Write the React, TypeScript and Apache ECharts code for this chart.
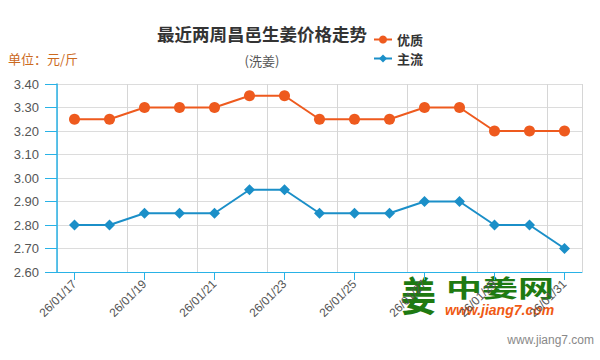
import React, { useEffect, useRef } from "react";
import * as echarts from "echarts";

const dates = [
  "26/01/17", "26/01/18", "26/01/19", "26/01/20", "26/01/21", "26/01/22", "26/01/23",
  "26/01/24", "26/01/25", "26/01/26", "26/01/27", "26/01/28", "26/01/29", "26/01/30", "26/01/31",
];
const premium = [3.25, 3.25, 3.3, 3.3, 3.3, 3.35, 3.35, 3.25, 3.25, 3.25, 3.3, 3.3, 3.2, 3.2, 3.2];
const mainstream = [2.8, 2.8, 2.85, 2.85, 2.85, 2.95, 2.95, 2.85, 2.85, 2.85, 2.9, 2.9, 2.8, 2.8, 2.7];
const seriesNames = ["优质", "主流"];

const AXIS = "#29b2e6";
const ORANGE = "#ee5a1e";
const BLUE = "#1b8fc8";

export default function App() {
  const ref = useRef<HTMLDivElement>(null);
  useEffect(() => {
    const chart = echarts.init(ref.current!, null, { renderer: "svg" });
    chart.setOption({
      animation: false,
      backgroundColor: "#fff",
      title: [
        {
          text: "最近两周昌邑生姜价格走势",
          left: 257,
          top: 20,
          textAlign: "center",
          textStyle: { fontSize: 17.5, fontWeight: "bold", color: "#333", fontFamily: "Noto Sans CJK SC" },
        },
        {
          text: "(洗姜)",
          left: 257,
          top: 49,
          textAlign: "center",
          textStyle: { fontSize: 13, fontWeight: "normal", color: "#555", fontFamily: "Noto Sans CJK SC" },
        },
      ],
      graphic: [
        {
          type: "text",
          left: 8,
          top: 52,
          style: { text: "单位：元/斤", fill: "#cc6a1e", fontSize: 13, fontFamily: "Noto Sans CJK SC" },
        },
        {
          type: "group",
          x: 401,
          y: 273,
          scaleX: 1,
          scaleY: 1.15,
          children: [
            {
              type: "text",
              x: 0,
              y: 0,
              style: { text: "姜", fill: "#1e7a12", fontSize: 35, fontWeight: "bold", fontFamily: "Noto Sans CJK SC" },
            },
          ],
        },
        {
          type: "group",
          x: 446,
          y: 275,
          scaleX: 1.2,
          scaleY: 0.8,
          children: [
            {
              type: "text",
              x: 0,
              y: 0,
              style: { text: "中姜网", fill: "#1e7a12", fontSize: 30, fontWeight: "bold", fontFamily: "Noto Sans CJK SC" },
            },
          ],
        },
        {
          type: "text",
          left: 445,
          top: 303,
          style: { text: "www.jiang7.com", fill: "#f05a14", fontSize: 14, fontWeight: "bold", fontStyle: "italic", fontFamily: "Arial" },
        },
        {
          type: "text",
          right: 6,
          top: 334,
          style: { text: "www.jiang7.com", fill: "#888", fontSize: 12, fontFamily: "Arial" },
        },
      ],
      legend: {
        orient: "vertical",
        left: 368,
        top: 28,
        itemWidth: 18,
        itemHeight: 10,
        itemGap: 6,
        textStyle: { fontSize: 13, fontWeight: "bold", color: "#333", fontFamily: "Noto Sans CJK SC" },
        data: seriesNames,
      },
      grid: { left: 57, right: 18, top: 84, bottom: 88 },
      xAxis: {
        type: "category",
        data: dates,
        boundaryGap: true,
        axisLine: { lineStyle: { color: AXIS, width: 1 } },
        axisTick: { show: true, alignWithLabel: true, interval: 1, length: 8, lineStyle: { color: AXIS } },
        axisLabel: { interval: 1, rotate: 45, fontSize: 12, color: "#555", fontFamily: "Arial", margin: 10 },
        splitLine: { show: true, interval: 1, lineStyle: { color: "#d6d6d6" } },
      },
      yAxis: {
        type: "value",
        min: 2.6,
        max: 3.4,
        interval: 0.1,
        axisLine: { show: true, lineStyle: { color: AXIS, width: 1.5 } },
        axisTick: { show: true, length: 12, lineStyle: { color: AXIS } },
        axisLabel: {
          fontSize: 13,
          color: "#555",
          fontFamily: "Arial",
          margin: 18,
          formatter: (v: number) => v.toFixed(2),
        },
        splitLine: { show: true, lineStyle: { color: "#dcdcdc" } },
      },
      series: [
        {
          name: seriesNames[0],
          type: "line",
          data: premium,
          symbol: "circle",
          symbolSize: 11,
          itemStyle: { color: ORANGE },
          lineStyle: { color: ORANGE, width: 2 },
        },
        {
          name: seriesNames[1],
          type: "line",
          data: mainstream,
          symbol: "diamond",
          symbolSize: 11,
          itemStyle: { color: BLUE },
          lineStyle: { color: BLUE, width: 2 },
        },
      ],
    });
    return () => chart.dispose();
  }, []);
  return (
    <div
      ref={ref}
      style={{ position: "absolute", left: 0, top: 0, width: 600, height: 360 }}
    />
  );
}
